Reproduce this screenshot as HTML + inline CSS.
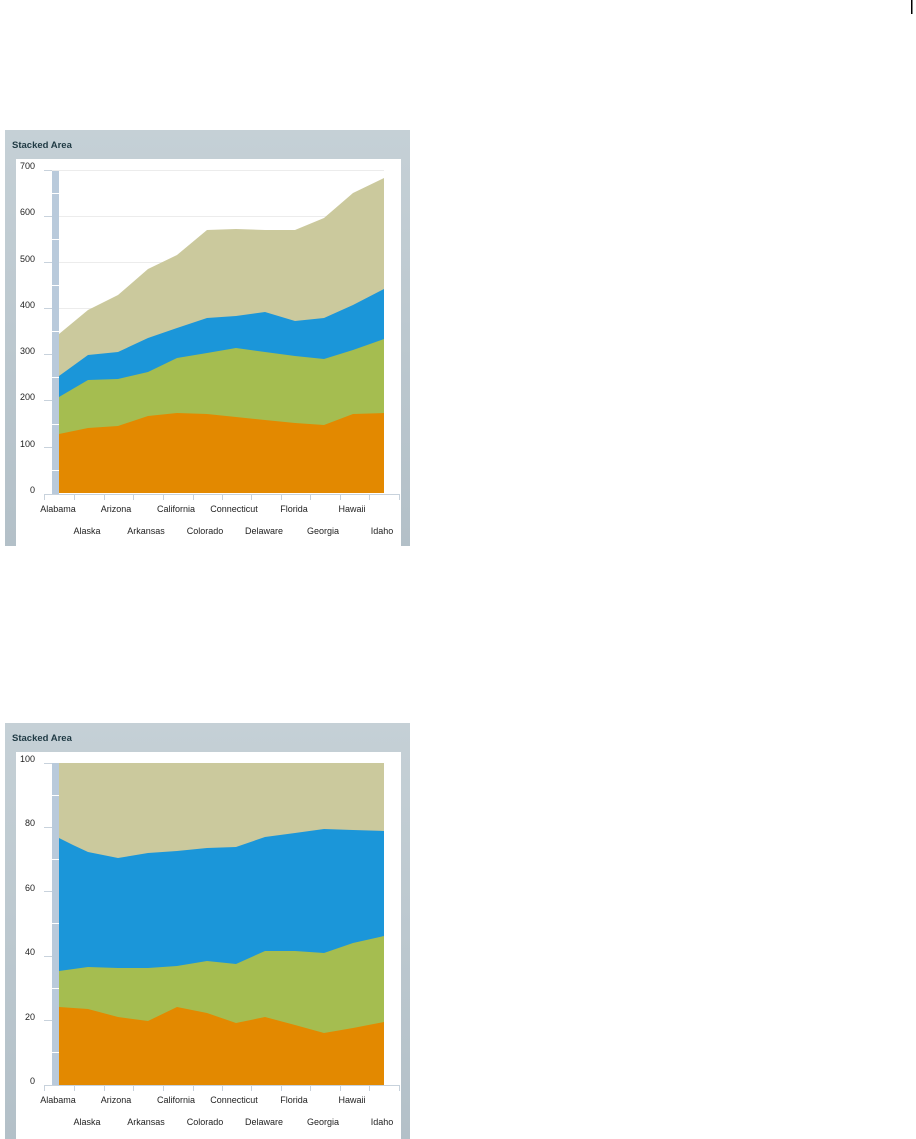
<!DOCTYPE html>
<html><head><style>
body{margin:0;background:#fff;width:916px;height:1139px;overflow:hidden}
svg{display:block;font-family:"Liberation Sans","DejaVu Sans",sans-serif}
</style></head><body>
<svg width="916" height="1139" viewBox="0 0 916 1139">
<rect x="911" y="0" width="1.5" height="14" fill="#000"/>
<defs>
<linearGradient id="pg" x1="0" y1="0" x2="0" y2="1"><stop offset="0" stop-color="#c5d0d6"/><stop offset="1" stop-color="#b3c0c8"/></linearGradient>
</defs>
<!-- Chart 1 -->
<g>
<rect x="5" y="130" width="405" height="416" fill="url(#pg)"/>
<text x="12" y="148" font-size="9.5" font-weight="bold" fill="#1f3a44">Stacked Area</text>
<rect x="16" y="159" width="385" height="387" fill="#fff"/>
<g stroke="#ececec" stroke-width="1">
<line x1="52" y1="170.5" x2="384" y2="170.5"/><line x1="52" y1="216.5" x2="384" y2="216.5"/><line x1="52" y1="262.5" x2="384" y2="262.5"/><line x1="52" y1="308.5" x2="384" y2="308.5"/><line x1="52" y1="354.5" x2="384" y2="354.5"/><line x1="52" y1="400.5" x2="384" y2="400.5"/><line x1="52" y1="447.5" x2="384" y2="447.5"/>
</g>
<rect x="52" y="171" width="7" height="323" fill="#b9cadb"/>
<g stroke="#fff" stroke-width="1">
<line x1="52" y1="193.5" x2="59" y2="193.5"/><line x1="52" y1="239.5" x2="59" y2="239.5"/><line x1="52" y1="285.5" x2="59" y2="285.5"/><line x1="52" y1="331.5" x2="59" y2="331.5"/><line x1="52" y1="377.5" x2="59" y2="377.5"/><line x1="52" y1="424.5" x2="59" y2="424.5"/><line x1="52" y1="470.5" x2="59" y2="470.5"/>
</g>
<polygon fill="#cbc99d" points="59,334 88,310 118,295 148,269 177,255 207,230 236,229 265,230 295,230 324,218 353,193 384,178 384,493 59,493"/>
<polygon fill="#1b96d9" points="59,376 88,355 118,352 148,338 177,328 207,318 236,316 265,312 295,321 324,318 353,305 384,289 384,493 59,493"/>
<polygon fill="#a5bd50" points="59,397 88,380 118,379 148,372 177,358 207,353 236,348 265,352 295,356 324,359 353,350 384,339 384,493 59,493"/>
<polygon fill="#e38900" points="59,434 88,428 118,426 148,416 177,413 207,414 236,417 265,420 295,423 324,425 353,414 384,413 384,493 59,493"/>
<g stroke="#c8d2dc" stroke-width="1" fill="none">
<line x1="44" y1="494.5" x2="399" y2="494.5"/>
<line x1="44.5" y1="494" x2="44.5" y2="500"/><line x1="74.5" y1="494" x2="74.5" y2="500"/><line x1="104.5" y1="494" x2="104.5" y2="500"/><line x1="133.5" y1="494" x2="133.5" y2="500"/><line x1="163.5" y1="494" x2="163.5" y2="500"/><line x1="193.5" y1="494" x2="193.5" y2="500"/><line x1="222.5" y1="494" x2="222.5" y2="500"/><line x1="251.5" y1="494" x2="251.5" y2="500"/><line x1="281.5" y1="494" x2="281.5" y2="500"/><line x1="310.5" y1="494" x2="310.5" y2="500"/><line x1="340.5" y1="494" x2="340.5" y2="500"/><line x1="369.5" y1="494" x2="369.5" y2="500"/><line x1="399.5" y1="494" x2="399.5" y2="500"/>
<line x1="44" y1="170.5" x2="52" y2="170.5"/><line x1="44" y1="216.5" x2="52" y2="216.5"/><line x1="44" y1="262.5" x2="52" y2="262.5"/><line x1="44" y1="308.5" x2="52" y2="308.5"/><line x1="44" y1="354.5" x2="52" y2="354.5"/><line x1="44" y1="400.5" x2="52" y2="400.5"/><line x1="44" y1="447.5" x2="52" y2="447.5"/>
</g>
<g font-size="9" fill="#222" text-anchor="end">
<text x="35" y="169">700</text><text x="35" y="215">600</text><text x="35" y="262">500</text><text x="35" y="308">400</text><text x="35" y="354">300</text><text x="35" y="400">200</text><text x="35" y="447">100</text><text x="35" y="493">0</text>
</g>
<g font-size="9" fill="#222" text-anchor="middle">
<text x="58" y="512">Alabama</text><text x="116" y="512">Arizona</text><text x="176" y="512">California</text><text x="234" y="512">Connecticut</text><text x="294" y="512">Florida</text><text x="352" y="512">Hawaii</text>
<text x="87" y="534">Alaska</text><text x="146" y="534">Arkansas</text><text x="205" y="534">Colorado</text><text x="264" y="534">Delaware</text><text x="323" y="534">Georgia</text><text x="382" y="534">Idaho</text>
</g>
</g>
<!-- Chart 2 -->
<g>
<rect x="5" y="723" width="405" height="416" fill="url(#pg)"/>
<text x="12" y="741" font-size="9.5" font-weight="bold" fill="#1f3a44">Stacked Area</text>
<rect x="16" y="752" width="385" height="387" fill="#fff"/>
<rect x="52" y="763" width="7" height="322" fill="#b9cadb"/>
<g stroke="#fff" stroke-width="1">
<line x1="52" y1="795.5" x2="59" y2="795.5"/><line x1="52" y1="859.5" x2="59" y2="859.5"/><line x1="52" y1="923.5" x2="59" y2="923.5"/><line x1="52" y1="988.5" x2="59" y2="988.5"/><line x1="52" y1="1052.5" x2="59" y2="1052.5"/>
</g>
<polygon fill="#cbc99d" points="59,763 384,763 384,1085 59,1085"/>
<polygon fill="#1b96d9" points="59,838 73,845 88,852 118,858 148,853 177,851 207,848 236,847 265,837 295,833 324,829 353,830 384,831 384,1085 59,1085"/>
<polygon fill="#a5bd50" points="59,971 88,967 118,968 148,968 177,966 207,961 236,964 265,951 295,951 324,953 353,943 384,936 384,1085 59,1085"/>
<polygon fill="#e38900" points="59,1007 88,1009 118,1017 148,1021 177,1007 207,1013 236,1023 265,1017 295,1025 324,1033 353,1028 384,1022 384,1085 59,1085"/>
<g stroke="#c8d2dc" stroke-width="1" fill="none">
<line x1="44" y1="1085.5" x2="399" y2="1085.5"/>
<line x1="44.5" y1="1085" x2="44.5" y2="1091"/><line x1="74.5" y1="1085" x2="74.5" y2="1091"/><line x1="104.5" y1="1085" x2="104.5" y2="1091"/><line x1="133.5" y1="1085" x2="133.5" y2="1091"/><line x1="163.5" y1="1085" x2="163.5" y2="1091"/><line x1="193.5" y1="1085" x2="193.5" y2="1091"/><line x1="222.5" y1="1085" x2="222.5" y2="1091"/><line x1="251.5" y1="1085" x2="251.5" y2="1091"/><line x1="281.5" y1="1085" x2="281.5" y2="1091"/><line x1="310.5" y1="1085" x2="310.5" y2="1091"/><line x1="340.5" y1="1085" x2="340.5" y2="1091"/><line x1="369.5" y1="1085" x2="369.5" y2="1091"/><line x1="399.5" y1="1085" x2="399.5" y2="1091"/>
<line x1="44" y1="763.5" x2="52" y2="763.5"/><line x1="44" y1="827.5" x2="52" y2="827.5"/><line x1="44" y1="891.5" x2="52" y2="891.5"/><line x1="44" y1="956.5" x2="52" y2="956.5"/><line x1="44" y1="1020.5" x2="52" y2="1020.5"/>
</g>
<g font-size="9" fill="#222" text-anchor="end">
<text x="35" y="762">100</text><text x="35" y="826">80</text><text x="35" y="891">60</text><text x="35" y="955">40</text><text x="35" y="1020">20</text><text x="35" y="1084">0</text>
</g>
<g font-size="9" fill="#222" text-anchor="middle">
<text x="58" y="1103">Alabama</text><text x="116" y="1103">Arizona</text><text x="176" y="1103">California</text><text x="234" y="1103">Connecticut</text><text x="294" y="1103">Florida</text><text x="352" y="1103">Hawaii</text>
<text x="87" y="1125">Alaska</text><text x="146" y="1125">Arkansas</text><text x="205" y="1125">Colorado</text><text x="264" y="1125">Delaware</text><text x="323" y="1125">Georgia</text><text x="382" y="1125">Idaho</text>
</g>
</g>
</svg>
</body></html>
